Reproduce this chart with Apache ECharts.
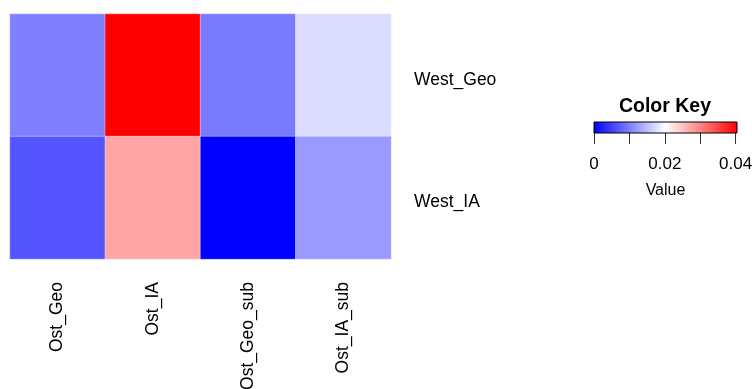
<!DOCTYPE html>
<html>
<head>
<meta charset="utf-8">
<script src="https://cdn.jsdelivr.net/npm/echarts@6/dist/echarts.min.js"></script>
<style>html,body{margin:0;padding:0;background:#fff;}#c{width:752px;height:389px;}</style>
</head>
<body>
<div id="c"></div>
<script>
// ---- data ----
var rowNames = ['West_Geo', 'West_IA'];
var colNames = ['Ost_Geo', 'Ost_IA', 'Ost_Geo_sub', 'Ost_IA_sub'];
var westGeo = [0.0101, 0.0404, 0.0097, 0.0174];
var westIA  = [0.0067, 0.0273, 0.0000, 0.0121];
var valueMin = 0;
var valueMax = 0.0404;
var keyTicks = [0, 0.01, 0.02, 0.03, 0.04];
var keyLabels = [0, 0.02, 0.04];
var keyLabelText = ['0', '0.02', '0.04'];

var FONT = 'Liberation Sans, Arial, Helvetica, sans-serif';
var rowsData = [westGeo, westIA];
var cells = [];
rowsData.forEach(function (vals, r) {
  vals.forEach(function (v, c) { cells.push([c, r, v]); });
});

var chart = echarts.init(document.getElementById('c'), null, {renderer: 'canvas'});
chart.setOption({
  animation: false,
  backgroundColor: '#ffffff',
  title: [{
    text: 'Color Key',
    left: 665, top: 97, textAlign: 'center', padding: 0,
    textStyle: {fontFamily: FONT, fontSize: 19.5, fontWeight: 'bold', color: '#000'}
  }],
  grid: [
    {left: 10, top: 14, width: 381, height: 245, outerBoundsMode: 'none', containLabel: false},
    {left: 594, top: 122, width: 143, height: 11, outerBoundsMode: 'none', containLabel: false}
  ],
  xAxis: [{
    gridIndex: 0, type: 'category', data: colNames, position: 'bottom',
    axisLine: {show: false}, axisTick: {show: false}, splitLine: {show: false},
    axisLabel: {rotate: 90, margin: 23, fontFamily: FONT, fontSize: 17.5, color: '#000',
      verticalAlign: 'middle'}
  }, {
    gridIndex: 1, type: 'value', min: valueMin, max: valueMax, position: 'bottom',
    axisLine: {show: false}, splitLine: {show: false},
    axisTick: {show: true, length: 11, customValues: keyTicks, lineStyle: {color: '#333', width: 1}},
    axisLabel: {show: true, customValues: keyLabels, margin: 23, fontFamily: FONT, fontSize: 17, color: '#000',
      formatter: function (v) {
        for (var i = 0; i < keyLabels.length; i++) { if (Math.abs(v - keyLabels[i]) < 1e-9) return keyLabelText[i]; }
        return '';
      }},
    name: 'Value', nameLocation: 'middle', nameGap: 50,
    nameTextStyle: {fontFamily: FONT, fontSize: 16, color: '#000'}
  }],
  yAxis: [{
    gridIndex: 0, type: 'category', data: rowNames, inverse: true, position: 'right',
    axisLine: {show: false}, axisTick: {show: false}, splitLine: {show: false},
    axisLabel: {margin: 23, align: 'left', verticalAlign: 'middle',
      formatter: function (v) { return '{r|' + v + '}'; },
      rich: {r: {fontFamily: FONT, fontSize: 17.5, color: '#000', padding: [9, 0, 0, 0]}}}
  }, {
    gridIndex: 1, type: 'value', min: 0, max: 1, show: false
  }],
  visualMap: {
    type: 'continuous', show: false, min: valueMin, max: valueMax, seriesIndex: 0, dimension: 2,
    inRange: {color: ['#0000FF', '#FFFFFF', '#FF0000']}
  },
  series: [{
    type: 'heatmap', xAxisIndex: 0, yAxisIndex: 0, data: cells,
    itemStyle: {borderColor: 'rgba(255,255,255,0.35)', borderWidth: 1},
    emphasis: {disabled: true}
  }, {
    type: 'custom', xAxisIndex: 1, yAxisIndex: 1, silent: true,
    data: [[valueMin, valueMax]],
    renderItem: function (params, api) {
      var p0 = api.coord([api.value(0), 0]);
      var p1 = api.coord([api.value(1), 1]);
      return {
        type: 'rect',
        shape: {x: p0[0], y: p1[1], width: p1[0] - p0[0], height: p0[1] - p1[1]},
        style: {
          fill: new echarts.graphic.LinearGradient(0, 0, 1, 0, [
            {offset: 0, color: '#0000FF'}, {offset: 0.5, color: '#FFFFFF'}, {offset: 1, color: '#FF0000'}
          ]),
          stroke: '#000', lineWidth: 1
        }
      };
    }
  }]
});
</script>
</body>
</html>
